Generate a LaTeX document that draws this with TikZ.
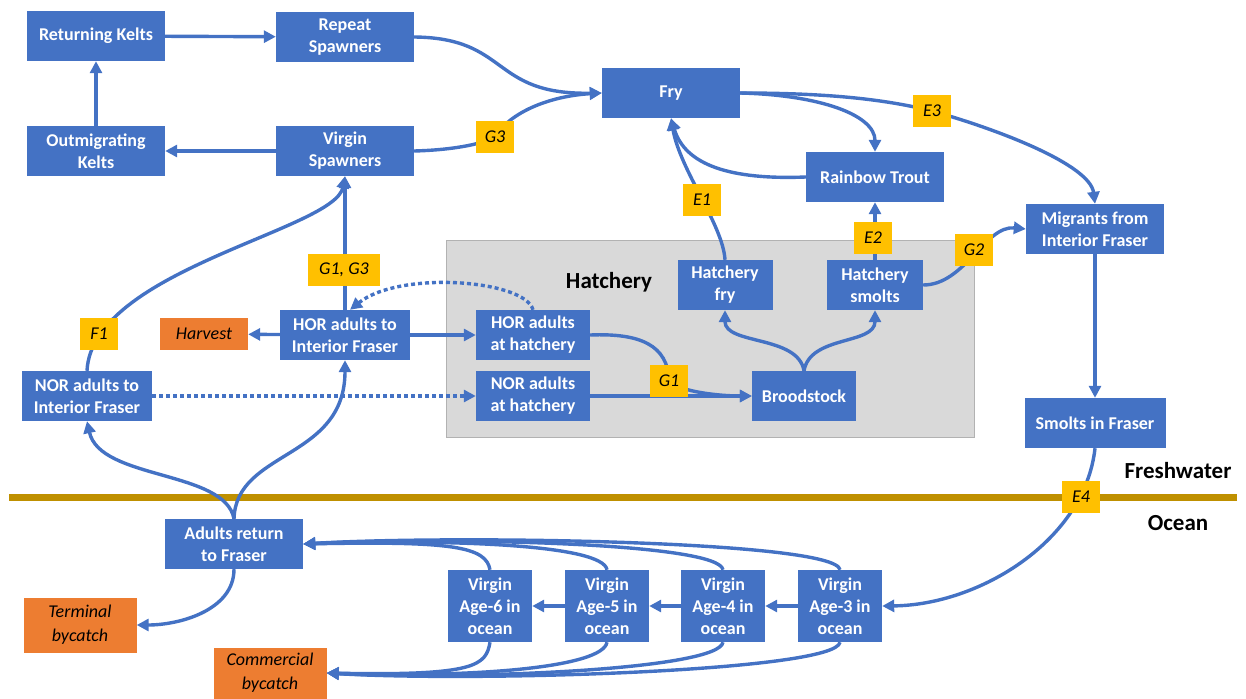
\documentclass[tikz,border=0pt]{standalone}
\usepackage{fontspec}
\setmainfont{Carlito}
\usetikzlibrary{arrows.meta, positioning, backgrounds}

\definecolor{boxblue}{HTML}{4472C4}
\definecolor{tagyellow}{HTML}{FFC000}
\definecolor{catchorange}{HTML}{ED7D31}
\definecolor{hatchgray}{HTML}{D9D9D9}
\definecolor{shore}{HTML}{BF9000}

\begin{document}
\begin{tikzpicture}[x=1pt, y=1pt, >={Triangle[length=12pt, width=12pt]},
  stage/.style={fill=boxblue, text=white, align=center, inner sep=0pt,
    minimum width=138pt, minimum height=50pt,
    font=\fontsize{18}{22}\selectfont\bfseries},
  tag/.style={fill=tagyellow, inner sep=0pt, minimum width=38pt,
    minimum height=32pt, font=\fontsize{18}{22}\selectfont\itshape},
  catch/.style={fill=catchorange, align=center, inner sep=0pt,
    font=\fontsize{18}{24}\selectfont\itshape},
  zone/.style={font=\fontsize{23}{26}\selectfont\bfseries},
  flow/.style={->, draw=boxblue, line width=3.4pt},
  stray/.style={flow, dash pattern=on 4pt off 3pt}]

  \useasboundingbox (0,0) rectangle (1246,-698);

  % Spawners and kelts
  \node[stage] (rkelt) at (96,-36) {Returning Kelts};
  \node[stage] (rspawn) at (345,-37) {Repeat\\Spawners};
  \node[stage] (okelt) at (96,-151) {Outmigrating\\Kelts};
  \node[stage] (vspawn) at (345,-151) {Virgin\\Spawners};

  % Freshwater rearing
  \node[stage] (fry) at (671,-93) {Fry};
  \node[stage] (trout) at (875,-177) {Rainbow Trout};
  \node[stage] (mig) at (1095,-229) {Migrants from\\Interior Fraser};
  \node[stage, minimum width=141pt] (smolt) at (1095,-423) {Smolts in Fraser};

  % Hatchery
  \node[zone] (hatch) at (609,-282) {Hatchery};
  \node[stage, minimum width=95pt] (hfry) at (725,-285) {Hatchery\\fry};
  \node[stage, minimum width=96pt] (hsmolt) at (875,-285) {Hatchery\\smolts};
  \node[stage, minimum width=114pt] (horh) at (533,-335) {HOR adults\\at hatchery};
  \node[stage, minimum width=114pt] (norh) at (533,-396) {NOR adults\\at hatchery};
  \node[stage, minimum width=104pt] (brood) at (804,-396) {Broodstock};

  % Returning adults
  \node[stage, minimum width=130pt] (horif) at (345,-335) {HOR adults to\\Interior Fraser};
  \node[stage, minimum width=130pt] (norif) at (87,-396) {NOR adults to\\Interior Fraser};
  \node[stage] (adret) at (234,-544) {Adults return\\to Fraser};
  \node[catch, minimum width=88pt, minimum height=32pt] (harvest) at (204,-334) {Harvest};
  \node[catch, minimum width=113pt, minimum height=55pt] (tbycatch) at (80,-625) {Terminal\\bycatch};
  \node[catch, minimum width=113pt, minimum height=51pt] (cbycatch) at (270,-673) {Commercial\\bycatch};

  % Ocean ages
  \node[stage, minimum width=84pt, minimum height=72pt] (age6) at (490,-606) {Virgin\\Age-6 in\\ocean};
  \node[stage, minimum width=84pt, minimum height=72pt] (age5) at (607,-606) {Virgin\\Age-5 in\\ocean};
  \node[stage, minimum width=84pt, minimum height=72pt] (age4) at (723,-606) {Virgin\\Age-4 in\\ocean};
  \node[stage, minimum width=84pt, minimum height=72pt] (age3) at (840,-606) {Virgin\\Age-3 in\\ocean};

  \node[zone] (fresh) at (1178,-471) {Freshwater};
  \node[zone] (ocean) at (1178,-523) {Ocean};

  % Tags
  \node[tag] (g3) at (495,-137) {G3};
  \node[tag] (e3) at (932,-111) {E3};
  \node[tag] (e1) at (702,-200) {E1};
  \node[tag] (e2) at (873,-238) {E2};
  \node[tag] (g2) at (974,-250) {G2};
  \node[tag] (g1) at (669,-381) {G1};
  \node[tag] (e4) at (1081,-497) {E4};
  \node[tag] (f1) at (99,-334) {F1};
  \node[tag, minimum width=72pt] (g13) at (344,-270) {G1, G3};

  \begin{scope}[on background layer]
    \draw[fill=hatchgray, draw=black!30, line width=1pt] (446,-240) rectangle (974,-437);
    \draw[shore, line width=7pt] (9,-497) -- (1237,-497);

    % Kelt loop
    \draw[flow] (rkelt) -- (rspawn);
    \draw[flow] (okelt) -- (rkelt);
    \draw[flow] (vspawn) -- (okelt);
    \draw[flow] (rspawn.east) .. controls (510,-38) and (490,-95) .. (fry.west);
    \draw[flow] (vspawn.east) .. controls (450,-150) and (480,-145) .. (g3.center)
      .. controls (510,-112) and (550,-96) .. (fry.west);

    % Fry and trout
    \draw[flow] (fry.east) .. controls (820,-95) and (875,-115) .. (trout.north);
    \draw[flow] (fry.east) .. controls (820,-93) and (880,-98) .. (e3.center)
      .. controls (1000,-130) and (1090,-165) .. (mig.north);
    \draw[flow] (trout.west) .. controls (730,-180) and (685,-165) .. (fry.south);
    \draw[flow] (hfry.north) .. controls (723,-225) and (680,-170) .. (fry.south);
    \draw[flow] (hsmolt) -- (trout);
    \draw[flow] (hsmolt.east) .. controls (965,-285) and (985,-225) .. (mig.west);
    \draw[flow] (mig) -- (smolt);
    \draw[flow] (smolt.south) .. controls (1085,-540) and (980,-605) .. (age3.east);

    % Ocean
    \draw[flow] (age3) -- (age4);
    \draw[flow] (age4) -- (age5);
    \draw[flow] (age5) -- (age6);
    \foreach \a/\r in {age6/3, age5/5, age4/7, age3/9} {
      \draw[flow] (\a.north) .. controls +(-4,20+\r) and +(150,\r) .. (adret.east);
      \draw[flow] (\a.south) .. controls +(-4,-20-\r) and +(150,-\r) .. (cbycatch.east);
    }
    \draw[flow] (adret.south) .. controls (234,-610) and (180,-625) .. (tbycatch.east);

    % Return to the river
    \draw[flow] (adret.north) .. controls (225,-470) and (100,-480) .. (norif.south);
    \draw[flow] (adret.north) .. controls (236,-450) and (345,-460) .. (horif.south);
    \draw[flow] (norif.north) .. controls (92,-270) and (335,-230) .. (vspawn.south);
    \draw[flow] (horif) -- (vspawn);
    \draw[flow] (horif) -- (harvest);
    \draw[flow] (horif) -- (horh);
    \draw[stray] (horh.north) .. controls (525,-280) and (400,-270) .. ([xshift=5pt]horif.north);
    \draw[stray] (norif) -- (norh);

    % Broodstock
    \draw[flow] (horh.east) .. controls (640,-333) and (668,-345) .. (g1.center)
      .. controls (680,-392) and (720,-396) .. (brood.west);
    \draw[flow] (norh) -- (brood);
    \draw[flow] (brood.north) .. controls (798,-335) and (725,-345) .. (hfry.south);
    \draw[flow] (brood.north) .. controls (810,-335) and (875,-345) .. (hsmolt.south);
  \end{scope}
\end{tikzpicture}
\end{document}
